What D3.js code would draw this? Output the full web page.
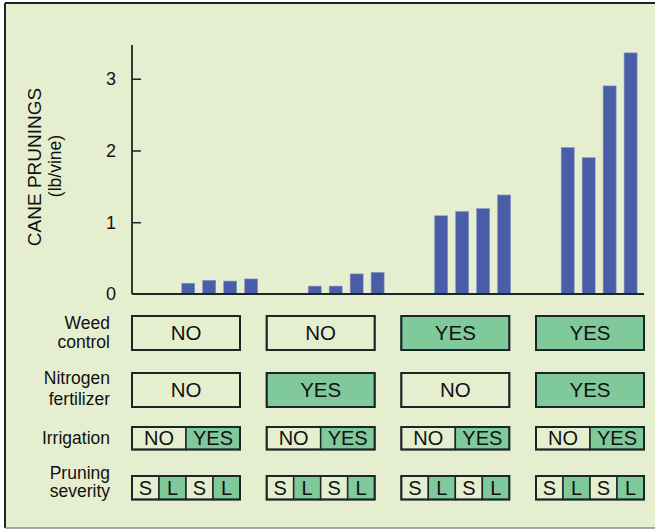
<!DOCTYPE html>
<html>
<head>
<meta charset="utf-8">
<script src="https://cdn.jsdelivr.net/npm/d3@7"></script>
<style>
  body { margin: 0; background: #fff; }
  text { font-family: "Liberation Sans", Arial, sans-serif; fill: #111; }
</style>
</head>
<body>
<script>
// treatments (bar groups), left to right
const treatments = ["T1", "T2", "T3", "T4"];
// bars inside each group: irrigation x pruning severity
const subBars = ["NO-S", "NO-L", "YES-S", "YES-L"];
// cane prunings, lb/vine
const prunings = [
  [0.15, 0.19, 0.18, 0.21],
  [0.11, 0.11, 0.28, 0.30],
  [1.09, 1.15, 1.19, 1.38],
  [2.04, 1.90, 2.90, 3.36]
];
const weedControl = ["NO", "NO", "YES", "YES"];
const nitrogen = ["NO", "YES", "NO", "YES"];
const irrigationCells = ["NO", "YES"];
const pruningCells = ["S", "L", "S", "L"];
const yTicks = [0, 1, 2, 3];

const width = 655, height = 529;
const bg = "#e5efd0", green = "#80c99b", barColor = "#4a5da8", ink = "#1b2626";

const svg = d3.select("body")
  .append("svg")
  .attr("width", width)
  .attr("height", height);

// panel
svg.append("rect")
  .attr("x", 5).attr("y", 3)
  .attr("width", 700).attr("height", 525)
  .attr("fill", bg);
svg.append("line").attr("x1", 5).attr("x2", width).attr("y1", 3).attr("y2", 3)
  .attr("stroke", ink).attr("stroke-width", 2);
svg.append("line").attr("x1", 5).attr("x2", 5).attr("y1", 3).attr("y2", 528)
  .attr("stroke", ink).attr("stroke-width", 2);
svg.append("line").attr("x1", 5).attr("x2", width).attr("y1", 528).attr("y2", 528)
  .attr("stroke", "#8a8f80").attr("stroke-width", 1.5);

const y = d3.scaleLinear().domain([0, 3.47]).range([294, 45]);

const x0 = d3.scaleBand()
  .domain(treatments)
  .range([132, 644])
  .paddingInner(0.4)
  .paddingOuter(0.224)
  .align(0.878);

const x1 = d3.scaleBand()
  .domain(subBars)
  .range([0, x0.bandwidth()])
  .paddingInner(0.38);

// bars
const groups = svg.selectAll(".group")
  .data(treatments)
  .enter()
  .append("g")
  .attr("class", "group")
  .attr("transform", function (d) { return "translate(" + x0(d) + ",0)"; });

groups.selectAll("rect")
  .data(function (d, i) { return prunings[i].map(function (v, j) { return { key: subBars[j], value: v }; }); })
  .enter()
  .append("rect")
  .attr("x", function (d) { return x1(d.key); })
  .attr("y", function (d) { return y(d.value); })
  .attr("width", x1.bandwidth())
  .attr("height", function (d) { return y(0) - y(d.value); })
  .attr("fill", barColor)
  .attr("stroke", "#8795c6")
  .attr("stroke-width", 0.6);

// y axis
const yAxis = d3.axisRight(y)
  .tickValues(yTicks.filter(function (t) { return t > 0; }))
  .tickSize(9)
  .tickFormat("");

const ax = svg.append("g")
  .attr("transform", "translate(132,0)")
  .call(yAxis);
ax.select(".domain").remove();
ax.selectAll(".tick line").attr("stroke", ink).attr("stroke-width", 1.5);

svg.append("line")
  .attr("x1", 132).attr("x2", 132)
  .attr("y1", y.range()[1]).attr("y2", y(0))
  .attr("stroke", ink).attr("stroke-width", 1.8);
svg.append("line")
  .attr("x1", 132).attr("x2", 644)
  .attr("y1", y(0)).attr("y2", y(0))
  .attr("stroke", ink).attr("stroke-width", 1.8);

svg.selectAll(".ylab")
  .data(yTicks)
  .enter()
  .append("text")
  .attr("class", "ylab")
  .attr("x", 111)
  .attr("y", function (d) { return y(d); })
  .attr("dy", "0.36em")
  .attr("text-anchor", "middle")
  .attr("font-size", 18)
  .text(function (d) { return d; });

// y title
svg.append("text")
  .attr("transform", "translate(41,167) rotate(-90)")
  .attr("text-anchor", "middle")
  .attr("font-size", 19)
  .text("CANE PRUNINGS");
svg.append("text")
  .attr("transform", "translate(61,166) rotate(-90)")
  .attr("text-anchor", "middle")
  .attr("font-size", 17.5)
  .text("(lb/vine)");

// treatment boxes
const xb = d3.scaleBand()
  .domain(treatments)
  .range([132, 644])
  .paddingInner(0.198);

const rows = [
  { label: ["Weed", "control"], top: 316, h: 34, lineGap: 19, base: 329, cells: function (i) { return [weedControl[i]]; }, fill: function (v) { return v === "YES"; } },
  { label: ["Nitrogen", "fertilizer"], top: 373, h: 34, lineGap: 21, base: 384, cells: function (i) { return [nitrogen[i]]; }, fill: function (v) { return v === "YES"; } },
  { label: ["Irrigation"], top: 427, h: 22.5, lineGap: 0, base: 444, cells: function () { return irrigationCells; }, fill: function (v) { return v === "YES"; } },
  { label: ["Pruning", "severity"], top: 476, h: 23.5, lineGap: 18, base: 479, cells: function () { return pruningCells; }, fill: function (v) { return v === "L"; } }
];

rows.forEach(function (row) {
  const lab = svg.append("text")
    .attr("text-anchor", "end")
    .attr("font-size", 17.5);
  row.label.forEach(function (t, k) {
    lab.append("tspan")
      .attr("x", 110)
      .attr("y", row.base + k * row.lineGap)
      .text(t);
  });

  treatments.forEach(function (tr, i) {
    const cells = row.cells(i);
    const xc = d3.scaleBand().domain(d3.range(cells.length)).range([xb(tr), xb(tr) + xb.bandwidth()]);
    const g = svg.append("g");
    g.selectAll("rect")
      .data(cells)
      .enter()
      .append("rect")
      .attr("x", function (d, k) { return xc(k); })
      .attr("y", row.top)
      .attr("width", xc.bandwidth())
      .attr("height", row.h)
      .attr("fill", function (d) { return row.fill(d) ? green : bg; })
      .attr("stroke", ink)
      .attr("stroke-width", 1.5);
    g.append("rect")
      .attr("x", xb(tr))
      .attr("y", row.top)
      .attr("width", xb.bandwidth())
      .attr("height", row.h)
      .attr("fill", "none")
      .attr("stroke", ink)
      .attr("stroke-width", 2);
    g.selectAll("text")
      .data(cells)
      .enter()
      .append("text")
      .attr("x", function (d, k) { return xc(k) + xc.bandwidth() / 2; })
      .attr("y", row.top + row.h / 2)
      .attr("dy", "0.36em")
      .attr("text-anchor", "middle")
      .attr("font-size", row.h > 30 ? 20.5 : 20)
      .text(function (d) { return d; });
  });
});
</script>
</body>
</html>
